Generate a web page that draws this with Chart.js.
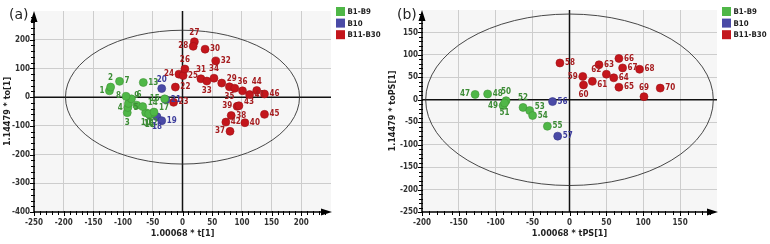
<!DOCTYPE html>
<html>
<head>
<meta charset="utf-8">
<script src="https://cdn.jsdelivr.net/npm/chart.js@4.4.1/dist/chart.umd.min.js"></script>
<style>
  html, body { margin: 0; padding: 0; background: #fff; }
  #wrap { position: relative; width: 770px; height: 244px; }
  .box { position: absolute; top: 0; width: 385px; height: 244px; }
</style>
</head>
<body>
<div id="wrap">
  <div class="box" style="left:0"><canvas id="chartA" width="385" height="244"></canvas></div>
  <div class="box" style="left:385px"><canvas id="chartB" width="385" height="244"></canvas></div>
</div>
<script>
// ---------- panel (a): t[1] / to[1] ----------
const aGreenIds = [1, 2, 3, 4, 5, 6, 7, 8, 9, 10, 11, 12, 13, 14, 15, 16, 17];
const aGreenX = [-123, -121, -93, -92, -91, -86, -106, -95, -77, -62, -55, -50, -66, -67, -30, -57, -48];
const aGreenY = [22, 35, -54, -36, -22, -6, 55, 3, -28, -54, -62, -56, 51, -33, -6, -58, -52];

const aBlueIds = [18, 19, 20, 21];
const aBlueX = [-43, -35, -35, -28];
const aBlueY = [-68, -82, 30, -9];

const aRedIds = [22, 23, 24, 25, 26, 27, 28, 29, 30, 31, 32, 33, 34, 35, '', 36, 37, 38, 39, 40, 41, 42, 43, 44, 45, 46];
const aRedX = [-12, -15, -6, 1, 4, 20, 18, 66, 38, 31, 56, 41, 53, 79, 88, 101, 80, 82, 92, 105, 113, 73, 95, 125, 138, 138];
const aRedY = [35, -18, 80, 75, 98, 193, 177, 49, 167, 64, 126, 56, 66, 36, 31, 22, -119, -64, -32, -89, 9, -87, -30, 23, -60, 11];

const aTicksX = [-250, -200, -150, -100, -50, 0, 50, 100, 150, 200];
const aTicksY = [-400, -300, -200, -100, 0, 100, 200];

// ---------- panel (b): tPS[1] / toPS[1] ----------
const bGreenIds = [47, 48, 49, 50, 51, 52, 53, 54, 55];
const bGreenX = [-128, -111, -90, -86, -88, -63, -54, -50, -30];
const bGreenY = [12, 13, -13, -2, -7, -17, -24, -35, -59];

const bBlueIds = [56, 57];
const bBlueX = [-23, -16];
const bBlueY = [-4, -81];

const bRedIds = [58, 59, 60, 61, 62, 63, 64, 65, 66, 67, 68, 69, 70];
const bRedX = [-13, 18, 19, 31, 50, 40, 60, 67, 67, 72, 95, 101, 123];
const bRedY = [82, 52, 33, 41, 57, 78, 49, 28, 92, 71, 68, 7, 26];

const bTicksX = [-200, -150, -100, -50, 0, 50, 100, 150];
const bTicksY = [-250, -200, -150, -100, -50, 0, 50, 100, 150];

const groupNames = ['B1-B9', 'B10', 'B11-B30'];

// where each point's number sits relative to its dot
const sideA = {1:'l',2:'t',3:'b',4:'l',5:'br',6:'tr',7:'r',8:'l',9:'t',10:'b',11:'b',12:'b',13:'r',14:'tr',15:'l',
  16:'b',17:'tr',18:'b',19:'r',20:'t',21:'r',22:'r',23:'r',24:'l',25:'r',26:'t',27:'t',28:'l',29:'tr',30:'r',31:'t',
  32:'r',33:'b',34:'t',35:'b',36:'t',37:'l',38:'r',39:'l',40:'r',41:'r',42:'r',43:'tr',44:'t',45:'r',46:'r'};
const sideB = {47:'l',48:'r',49:'l',50:'t',51:'b',52:'t',53:'tr',54:'r',55:'r',56:'r',57:'r',58:'r',59:'l',60:'b',
  61:'br',62:'tl',63:'r',64:'r',65:'r',66:'r',67:'r',68:'r',69:'t',70:'r'};

const FILL = ['#4fb747', '#4a4aa6', '#c4161c'];
const EDGE = ['#3f9337', '#363688', '#9e1015'];
const TEXT = ['#3d8c36', '#3c3c9c', '#a51c1f'];
const FONT = "'Liberation Sans Narrow', 'DejaVu Sans Condensed', sans-serif";

function pts(xs, ys) {
  return xs.map((x, i) => ({ x: x, y: ys[i] }));
}

const decor = {
  id: 'decor',
  beforeDraw(chart, args, o) {
    const { ctx, chartArea: a } = chart;
    ctx.save();
    ctx.fillStyle = '#f6f6f6';
    ctx.fillRect(a.left, a.top, a.right - a.left, a.bottom - a.top);
    ctx.restore();
  },
  beforeDatasetsDraw(chart, args, o) {
    const { ctx, chartArea: a, scales } = chart;
    const sx = scales.x, sy = scales.y;
    ctx.save();
    // zero lines
    ctx.strokeStyle = '#111';
    ctx.lineWidth = 1.5;
    ctx.beginPath();
    ctx.moveTo(a.left, sy.getPixelForValue(0));
    ctx.lineTo(a.right, sy.getPixelForValue(0));
    ctx.moveTo(sx.getPixelForValue(0), a.top);
    ctx.lineTo(sx.getPixelForValue(0), a.bottom);
    ctx.stroke();
    // confidence ellipse
    const cx = sx.getPixelForValue(0), cy = sy.getPixelForValue(0);
    const rx = sx.getPixelForValue(o.rx) - cx, ry = cy - sy.getPixelForValue(o.ry);
    ctx.strokeStyle = '#333';
    ctx.lineWidth = 0.9;
    ctx.beginPath();
    ctx.ellipse(cx, cy, rx, ry, 0, 0, Math.PI * 2);
    ctx.stroke();
    // axes with minor ticks and arrows
    ctx.strokeStyle = '#000';
    ctx.fillStyle = '#000';
    ctx.lineWidth = 1.5;
    ctx.beginPath();
    ctx.moveTo(a.left, a.bottom);
    ctx.lineTo(a.right - 4, a.bottom);
    ctx.moveTo(a.left, a.bottom);
    ctx.lineTo(a.left, a.top + 4);
    ctx.stroke();
    ctx.lineWidth = 1;
    ctx.beginPath();
    for (let v = sx.min; v < sx.max - 8; v += o.minorX) {
      const p = Math.round(sx.getPixelForValue(v)) + 0.5;
      const big = Math.abs(v % o.majorX) < 1e-6;
      ctx.moveTo(p, a.bottom - 1);
      ctx.lineTo(p, a.bottom + (big ? 4 : 3));
    }
    for (let v = sy.min; v < sy.max - 8; v += o.minorY) {
      const p = Math.round(sy.getPixelForValue(v)) + 0.5;
      const big = Math.abs(v % o.majorY) < 1e-6;
      ctx.moveTo(a.left + 1, p);
      ctx.lineTo(a.left - (big ? 4 : 3), p);
    }
    ctx.stroke();
    ctx.beginPath();
    ctx.moveTo(a.right + 1, a.bottom);
    ctx.lineTo(a.right - 10, a.bottom - 3.5);
    ctx.lineTo(a.right - 10, a.bottom + 3.5);
    ctx.closePath();
    ctx.moveTo(a.left, a.top);
    ctx.lineTo(a.left - 3.5, a.top + 11);
    ctx.lineTo(a.left + 3.5, a.top + 11);
    ctx.closePath();
    ctx.fill();
    ctx.restore();
  },
  afterDatasetsDraw(chart, args, o) {
    const { ctx } = chart;
    ctx.save();
    ctx.font = 'bold 8px ' + FONT;
    chart.data.datasets.forEach((ds, di) => {
      const meta = chart.getDatasetMeta(di);
      ctx.fillStyle = TEXT[di];
      meta.data.forEach((el, i) => {
        const id = ds.ids[i];
        if (id === '') return;
        const s = o.side[id] || 'r';
        let dx = 0, dy = 0;
        ctx.textAlign = 'center';
        ctx.textBaseline = 'middle';
        if (s.includes('r')) { dx = 5; ctx.textAlign = 'left'; }
        if (s.includes('l')) { dx = -5; ctx.textAlign = 'right'; }
        if (s.includes('t')) { dy = s.length > 1 ? -4 : -9; }
        if (s.includes('b')) { dy = s.length > 1 ? 4 : 10; }
        ctx.fillText(String(id), el.x + dx, el.y + dy);
      });
    });
    ctx.restore();
  },
  afterDraw(chart, args, o) {
    const { ctx, chartArea: a } = chart;
    ctx.save();
    // legend
    groupNames.forEach((name, i) => {
      const y = 7 + i * 11.6;
      ctx.fillStyle = FILL[i];
      ctx.fillRect(a.right + 5, y, 9, 9);
      ctx.fillStyle = '#222';
      ctx.font = 'bold 7.8px ' + FONT;
      ctx.textAlign = 'left';
      ctx.textBaseline = 'middle';
      ctx.fillText(name, a.right + 16.5, y + 5);
    });
    // panel tag
    ctx.fillStyle = '#222';
    ctx.font = '14px "DejaVu Sans", sans-serif';
    ctx.textAlign = 'left';
    ctx.textBaseline = 'middle';
    ctx.fillText(o.tag, o.tagX, 15);
    ctx.restore();
  }
};

function makeChart(id, cfg) {
  const ds = cfg.groups.map((g, i) => ({
    label: groupNames[i],
    data: pts(g.x, g.y),
    ids: g.ids,
    pointRadius: 4,
    pointHoverRadius: 4,
    pointBackgroundColor: FILL[i],
    pointBorderColor: EDGE[i],
    pointBorderWidth: 0.6,
    clip: false
  }));
  const gridColor = (ctx) => {
    const v = ctx.tick ? ctx.tick.value : null;
    if (v === 0 || v === ctx.scale.min || v === ctx.scale.max) return 'rgba(0,0,0,0)';
    return '#cdcdcd';
  };
  return new Chart(document.getElementById(id), {
    type: 'scatter',
    data: { datasets: ds },
    plugins: [decor],
    options: {
      responsive: false,
      animation: false,
      events: [],
      layout: { padding: { top: cfg.padTop, right: cfg.padRight, left: 0, bottom: 0 } },
      plugins: {
        legend: { display: false },
        tooltip: { enabled: false },
        decor: cfg.decor
      },
      scales: {
        x: {
          type: 'linear',
          min: cfg.xMin, max: cfg.xMax,
          afterFit: (s) => { s.height = 32; },
          afterBuildTicks: (s) => { s.ticks = cfg.ticksX.concat([cfg.xMax]).map(v => ({ value: v })); },
          ticks: {
            padding: 6,
            color: '#333',
            font: { family: FONT, size: 8, weight: 'bold' },
            maxRotation: 0,
            autoSkip: false,
            callback: (v) => (cfg.ticksX.includes(v) ? String(v) : '')
          },
          grid: { color: gridColor, lineWidth: 1, drawTicks: false },
          border: { display: false },
          title: {
            display: true, text: cfg.xTitle, color: '#222',
            font: { family: FONT, size: 9, weight: 'bold' },
            padding: { top: 0, bottom: 5 }
          }
        },
        y: {
          type: 'linear',
          min: cfg.yMin, max: cfg.yMax,
          afterFit: (s) => { s.width = cfg.yWidth; },
          afterBuildTicks: (s) => { s.ticks = cfg.ticksY.concat([cfg.yMax]).map(v => ({ value: v })); },
          ticks: {
            padding: 4,
            color: '#333',
            font: { family: FONT, size: 8, weight: 'bold' },
            autoSkip: false,
            callback: (v) => (cfg.ticksY.includes(v) ? String(v) : '')
          },
          grid: { color: gridColor, lineWidth: 1, drawTicks: false },
          border: { display: false },
          title: {
            display: true, text: cfg.yTitle, color: '#222',
            font: { family: FONT, size: 9, weight: 'bold' },
            padding: { top: 2, bottom: 0 }
          }
        }
      }
    }
  });
}

makeChart('chartA', {
  groups: [
    { ids: aGreenIds, x: aGreenX, y: aGreenY },
    { ids: aBlueIds, x: aBlueX, y: aBlueY },
    { ids: aRedIds, x: aRedX, y: aRedY }
  ],
  xMin: -250, xMax: 250, yMin: -400, yMax: 300,
  ticksX: aTicksX, ticksY: aTicksY,
  xTitle: '1.00068 * t[1]', yTitle: '1.14479 * to[1]',
  padTop: 11, padRight: 54, yWidth: 34,
  decor: { rx: 197, ry: 233, minorX: 10, majorX: 50, minorY: 20, majorY: 100, side: sideA, tag: '(a)', tagX: 9 }
});

makeChart('chartB', {
  groups: [
    { ids: bGreenIds, x: bGreenX, y: bGreenY },
    { ids: bBlueIds, x: bBlueX, y: bBlueY },
    { ids: bRedIds, x: bRedX, y: bRedY }
  ],
  xMin: -200, xMax: 200, yMin: -250, yMax: 200,
  ticksX: bTicksX, ticksY: bTicksY,
  xTitle: '1.00068 * tPS[1]', yTitle: '1.14479 * toPS[1]',
  padTop: 10, padRight: 53, yWidth: 37,
  decor: { rx: 195, ry: 191, minorX: 10, majorX: 50, minorY: 10, majorY: 50, side: sideB, tag: '(b)', tagX: 12 }
});
</script>
</body>
</html>
